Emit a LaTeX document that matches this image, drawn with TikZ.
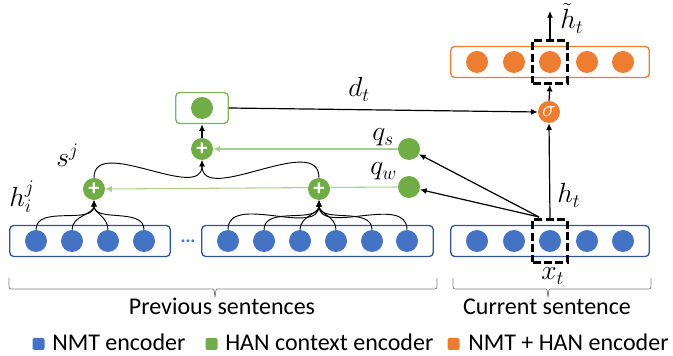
\documentclass[tikz,border=0pt]{standalone}
\usepackage{fontspec}
\setmainfont{Carlito}
\usetikzlibrary{arrows.meta,positioning,fit,backgrounds}
\definecolor{nmtblue}{HTML}{4472C4}
\definecolor{nmtline}{HTML}{2F5597}
\definecolor{hangreen}{HTML}{70AD47}
\definecolor{hanbox}{HTML}{7DB554}
\definecolor{hanline}{HTML}{A9D18E}
\definecolor{mixorange}{HTML}{ED7D31}
\definecolor{bracegray}{HTML}{808080}

\begin{document}
\begin{tikzpicture}[x=0.75pt,y=0.75pt,
  unit/.style={circle,minimum size=16.5pt,inner sep=0pt},
  nmt/.style={unit,fill=nmtblue},
  han/.style={unit,fill=hangreen},
  mix/.style={unit,fill=mixorange},
  sumnode/.style={unit,fill=hangreen,text=white,font=\bfseries\fontsize{17}{17}\selectfont},
  encbox/.style={draw,rounded corners=3pt,line width=1pt,inner xsep=11.2pt,inner ysep=3.2pt},
  focus/.style={draw,line width=2.2pt,dash pattern=on 6pt off 2.5pt,inner xsep=4.5pt,inner ysep=7.5pt},
  lab/.style={font=\fontsize{19.5}{22}\selectfont,inner sep=0pt,anchor=base west},
  arr/.style={-{Latex[length=5pt,width=4.5pt]},line width=0.9pt},
  link/.style={-{Latex[length=4.5pt,width=4pt]},line width=0.7pt},
  garr/.style={-{Latex[length=5pt,width=5pt]},draw=hanline,line width=0.8pt},
  legsq/.style={minimum size=9pt,inner sep=0pt,rounded corners=1.5pt},
  legtext/.style={font=\fontsize{18}{20}\selectfont,inner sep=0pt,anchor=base west},
  sentbrace/.style={draw=bracegray,line width=0.6pt,rounded corners=1.5pt}]
\useasboundingbox (0,0) rectangle (673,356);

\foreach \x [count=\i] in {36,72,108,144} \node[nmt] (b\i) at (\x,115) {};
\foreach \x [count=\i] in {228,264,300,336,372,407} \node[nmt] (m\i) at (\x,115) {};
\foreach \x [count=\i] in {477,514,550,587,623} {
  \node[nmt] (c\i) at (\x,115) {};
  \node[mix] (o\i) at (\x,294) {};
}
\node[text=nmtblue,font=\bfseries\fontsize{14}{14}\selectfont] (dots) at (188,115) {...};

\node[encbox,draw=nmtline,fit=(b1)(b4)] (boxL) {};
\node[encbox,draw=nmtline,fit=(m1)(m6)] (boxM) {};
\node[encbox,draw=nmtline,fit=(c1)(c5)] (boxC) {};
\node[encbox,draw=mixorange,fit=(o1)(o5)] (boxO) {};
\node[focus,fit=(c3)] (fc) {};
\node[focus,fit=(o3)] (fo) {};

\node[sumnode] (wsL) at (94,167) {+};
\node[sumnode] (wsR) at (319,167) {+};
\node[sumnode] (ss) at (202,207) {+};
\node[han] (sv) at (202,248) {};
\node[encbox,draw=hanbox,fit=(sv)] (boxS) {};
\node[han] (qs) at (409,207) {};
\node[han] (qw) at (409,169) {};
\node[mix,text=white,font=\fontsize{19}{19}\selectfont] (gate) at (549,244) {$\sigma$};

\node[lab] (hij) at (9,149) {$h_i^j$};
\node[lab] (sj) at (56,189) {$s^j$};
\node[lab] (dt) at (348,259) {$d_t$};
\node[lab] (qsl) at (372,215) {$q_s$};
\node[lab] (qwl) at (370,181) {$q_w$};
\node[lab] (htl) at (557,153) {$h_t$};
\node[lab] (htil) at (560,327) {$\tilde{h}_t$};
\node[lab] (xt) at (541,76) {$x_t$};

\begin{scope}[on background layer]
\draw[garr] (qs.west) -- (ss.east);
\draw[garr] (qw.west) -- (wsL.east);
\end{scope}

\foreach \i in {1,...,4} \draw[link] (b\i.north) to[out=90,in=-90] (wsL.south);
\foreach \i in {1,...,6} \draw[link] (m\i.north) to[out=90,in=-90] (wsR.south);
\draw[link] (wsL.north) to[out=90,in=-90] (ss.south);
\draw[link] (wsR.north) to[out=90,in=-90] (ss.south);
\draw[arr] (ss.north) -- (boxS.south);
\draw[arr] (boxS.east) -- (gate.west);

\coordinate (hsrc) at (539,139);
\coordinate (hout) at (550,345);
\draw[arr] (hsrc) -- (qs);
\draw[arr] (hsrc) -- (qw);
\draw[arr] (fc.north) -- (gate.south);
\draw[arr] (gate.north) -- (fo.south);
\draw[arr] (fo.north) -- (hout);

\draw[sentbrace] (9,78) |- (211,67) .. controls (214,67) .. (215,58) .. controls (216,67) .. (219,67) -| (437,78);
\draw[sentbrace] (453,78) |- (544,67) .. controls (547,67) .. (548,58) .. controls (549,67) .. (552,67) -| (651,78);
\node[legtext,anchor=base] (prevtxt) at (222,41) {Previous sentences};
\node[legtext,anchor=base] (curtxt) at (547,41) {Current sentence};

\node[legsq,fill=nmtblue] (lg1) at (38.5,12) {};
\node[legtext] (lt1) at (52,5) {NMT encoder};
\node[legsq,fill=hangreen] (lg2) at (211.5,12) {};
\node[legtext] (lt2) at (225,5) {HAN context encoder};
\node[legsq,fill=mixorange] (lg3) at (453.5,12) {};
\node[legtext] (lt3) at (468,5) {NMT + HAN encoder};
\end{tikzpicture}
\end{document}
